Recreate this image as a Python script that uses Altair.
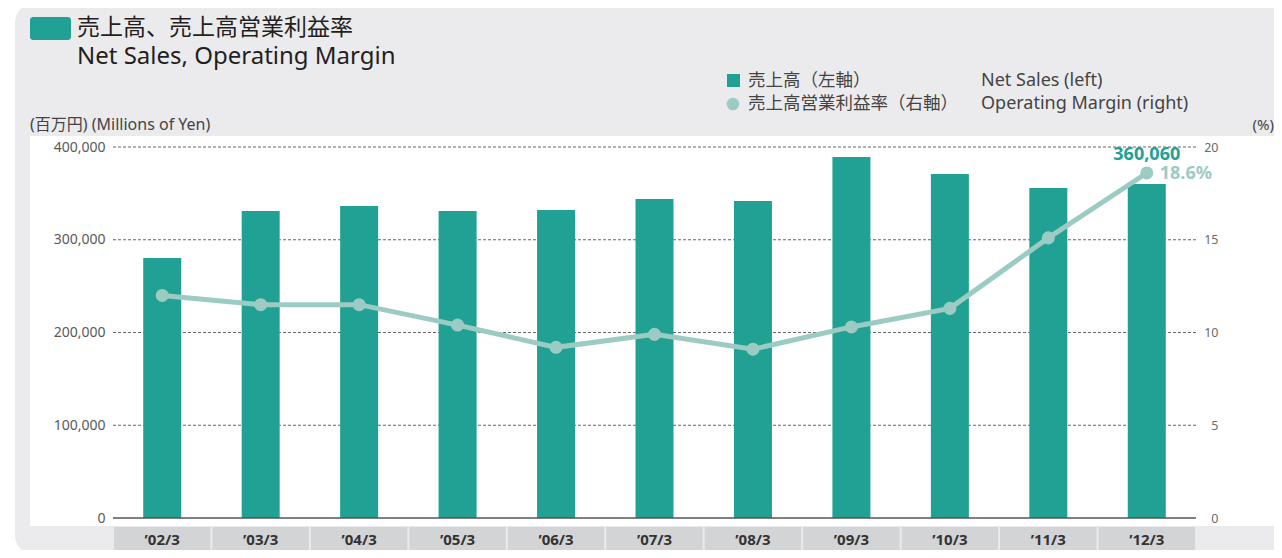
import altair as alt
import pandas as pd

# ---- data ----
years = ["’02/3", "’03/3", "’04/3", "’05/3", "’06/3", "’07/3", "’08/3", "’09/3", "’10/3", "’11/3", "’12/3"]
net_sales = [280300, 331000, 336400, 331000, 332000, 344000, 341800, 389200, 370900, 355800, 360060]
op_margin = [12.0, 11.5, 11.5, 10.4, 9.2, 9.9, 9.1, 10.3, 11.3, 15.1, 18.6]
yen_ticks = [0, 100000, 200000, 300000, 400000]
pct_ticks = [0, 5, 10, 15, 20]
grid_values = [100000, 200000, 300000, 400000]

df = pd.DataFrame({"year": years, "sales": net_sales, "margin": op_margin})
last = df.tail(1)
grid_df = pd.DataFrame({"v": grid_values})
base_df = pd.DataFrame({"v": [0]})
one = pd.DataFrame({"k": [0]})

W, H = 1083, 371
FONT = "'Noto Sans', 'Noto Sans CJK JP', sans-serif"
TEAL = "#21a194"
LIGHT = "#9ccbc3"
PANEL = "#ebebed"
BOX = "#d3d4d6"

X = alt.X("year:N", sort=years, scale=alt.Scale(paddingInner=0, paddingOuter=0), axis=None)
YEN = alt.Scale(domain=[0, 400000], nice=False)
PCT = alt.Scale(domain=[0, 20], nice=False)


def rect(x0, x1, y0, y1, color, radius=0):
    return alt.Chart(one).mark_rect(color=color, cornerRadius=radius).encode(
        x=alt.value(x0), x2=alt.value(x1), y=alt.value(y0), y2=alt.value(y1))


def label(txt, x, y, size, color="#333333", align="left", weight="normal", baseline="middle"):
    return alt.Chart(one).mark_text(
        text=txt, font=FONT, fontSize=size, color=color, align=align,
        fontWeight=weight, baseline=baseline).encode(x=alt.value(x), y=alt.value(y))


panel = rect(-98, 1200, -144, 408, PANEL, 20)
white = rect(-83, 1165, -11, 379, "white")

boxes = alt.Chart(df).mark_bar(width=96.5, color=BOX).encode(
    x=X, y=alt.value(380), y2=alt.value(403))

grid = alt.Chart(grid_df).mark_rule(color="#666666", strokeDash=[3, 2], strokeWidth=1).encode(
    y=alt.Y("v:Q", scale=YEN, axis=None))

bars = alt.Chart(df).mark_bar(width=38, color=TEAL).encode(
    x=X,
    y=alt.Y("sales:Q", scale=YEN, axis=alt.Axis(
        orient="left", values=yen_ticks, format=",.0f", grid=False, domain=False, ticks=False,
        labelPadding=8, labelFontSize=14, labelColor="#595959", labelFont=FONT,
        title=None, zindex=1)))

baseline = alt.Chart(base_df).mark_rule(color="#555555", strokeWidth=1.5).encode(
    y=alt.Y("v:Q", scale=YEN, axis=None))

line = alt.Chart(df).mark_line(color=LIGHT, strokeWidth=5).encode(
    x=X,
    y=alt.Y("margin:Q", scale=PCT, axis=alt.Axis(
        orient="right", values=pct_ticks, format="d", grid=False, domain=False, ticks=False,
        labelPadding=22, labelAlign="right", labelFontSize=12.5, labelColor="#6a6a6a",
        labelFont=FONT, title=None, zindex=1)))

points = alt.Chart(df).mark_circle(size=170, color=LIGHT, opacity=1).encode(
    x=X, y=alt.Y("margin:Q", scale=PCT, axis=None))

xlabels = alt.Chart(df).mark_text(font=FONT, fontSize=15, fontWeight="bold", color="#333333").encode(
    x=X, y=alt.value(393), text="year:N")

ann_sales = alt.Chart(last).mark_text(font=FONT, fontSize=18, fontWeight="bold", color=TEAL, dy=-18).encode(
    x=X, y=alt.Y("margin:Q", scale=PCT, axis=None), text=alt.Text("sales:Q", format=",.0f"))

ann_margin = alt.Chart(last).transform_calculate(lbl="format(datum.margin, '.1f') + '%'").mark_text(
    font=FONT, fontSize=18, fontWeight="bold", color=LIGHT, align="left", dx=13, dy=1).encode(
    x=X, y=alt.Y("margin:Q", scale=PCT, axis=None), text="lbl:N")

title_sq = rect(-83, -42, -130, -107, TEAL, 3)
title_jp = label("売上高、売上高営業利益率", -36, -119, 23, "#231f20")
title_en = label("Net Sales, Operating Margin", -36, -83, 24, "#231f20", baseline="alphabetic")
unit_l = label("(百万円) (Millions of Yen)", -83, -22, 16, "#444444")
unit_r = label("(%)", 1161, -22, 15, "#444444", align="right")

leg_sq = rect(614, 627, -73, -60, TEAL)
leg_ci = alt.Chart(one).mark_circle(size=160, color=LIGHT, opacity=1).encode(
    x=alt.value(620), y=alt.value(-43))
leg_t1 = label("売上高（左軸）", 635, -66, 17.5, "#444444")
leg_t2 = label("売上高営業利益率（右軸）", 635, -43, 17.5, "#444444")
leg_t3 = label("Net Sales (left)", 868, -66, 18, "#444444")
leg_t4 = label("Operating Margin (right)", 868, -43, 18, "#444444")

chart = alt.layer(
    panel, white, boxes, grid, bars, baseline, line, points, xlabels,
    ann_sales, ann_margin, title_sq, title_jp, title_en, unit_l, unit_r,
    leg_sq, leg_ci, leg_t1, leg_t2, leg_t3, leg_t4,
).resolve_scale(y="independent").properties(
    width=W, height=H,
    autosize=alt.AutoSizeParams(type="none"),
    padding={"left": 105, "top": 139, "right": 78, "bottom": 32},
    background="white",
).configure_view(strokeWidth=0)

chart.save("out.html", embed_options={"renderer": "svg", "actions": False})
